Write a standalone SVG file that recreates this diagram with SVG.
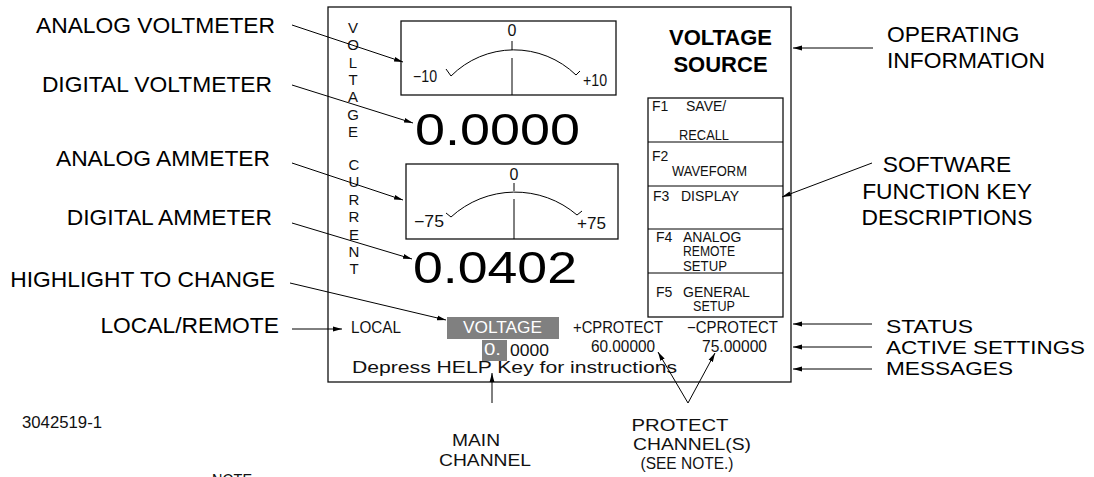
<svg xmlns="http://www.w3.org/2000/svg" width="1094" height="477" viewBox="0 0 1094 477">
<style>
.lbl{font-family:"Liberation Sans",Arial,sans-serif;font-size:22.8px;fill:#000}
.cad{font-family:"Liberation Sans",Arial,sans-serif;font-size:14px;fill:#111}
.vt{font-family:"Liberation Sans",Arial,sans-serif;font-size:15px;fill:#111}
.mid{font-family:"Liberation Sans",Arial,sans-serif;font-size:16px;fill:#111}
.big{font-family:"Liberation Sans",Arial,sans-serif;font-size:44px;fill:#000}
.ttl{font-family:"Liberation Sans",Arial,sans-serif;font-size:22px;font-weight:bold;fill:#000}
.bot{font-family:"Liberation Sans",Arial,sans-serif;font-size:16.5px;fill:#111}
.st{font-family:"Liberation Sans",Arial,sans-serif;font-size:19px;fill:#000}
.wh{fill:#fff}
.box{fill:none;stroke:#111;stroke-width:1.3}
.ln{fill:none;stroke:#000;stroke-width:1}
.hl{fill:#808080}
</style>
<defs>
<marker id="ah" markerUnits="userSpaceOnUse" markerWidth="10" markerHeight="6" refX="9" refY="3" orient="auto">
<path d="M0,0.6 L9,3 L0,5.4 z" fill="#000"/>
</marker>
</defs>

<g id="panel">
<rect x="328" y="7" width="463" height="375" class="box" stroke-width="1.5"/>
</g>

<g id="voltage-vertical">
<text class="vt" text-anchor="middle" x="353" y="33">V</text>
<text class="vt" text-anchor="middle" x="353" y="50.3">O</text>
<text class="vt" text-anchor="middle" x="353" y="67.6">L</text>
<text class="vt" text-anchor="middle" x="353" y="84.9">T</text>
<text class="vt" text-anchor="middle" x="353" y="102.2">A</text>
<text class="vt" text-anchor="middle" x="353" y="119.5">G</text>
<text class="vt" text-anchor="middle" x="353" y="136.8">E</text>
</g>
<g id="current-vertical">
<text class="vt" text-anchor="middle" x="354" y="170">C</text>
<text class="vt" text-anchor="middle" x="354" y="187.4">U</text>
<text class="vt" text-anchor="middle" x="354" y="204.8">R</text>
<text class="vt" text-anchor="middle" x="354" y="222.2">R</text>
<text class="vt" text-anchor="middle" x="354" y="239.6">E</text>
<text class="vt" text-anchor="middle" x="354" y="257">N</text>
<text class="vt" text-anchor="middle" x="354" y="274.4">T</text>
</g>

<g id="analog-voltmeter">
<rect x="401" y="21" width="215" height="74" class="box"/>
<line x1="512" y1="41" x2="512" y2="50" class="ln"/>
<line x1="512" y1="58" x2="512" y2="95" class="ln"/>
<path d="M451,76 A89,89 0 0 1 576,75" class="ln"/>
<path d="M446,69 L451,76" class="ln"/>
<path d="M576,75 L580,71" class="ln"/>
<text class="mid" x="512" y="36" text-anchor="middle">0</text>
<text class="mid" x="413" y="82" textLength="24" lengthAdjust="spacingAndGlyphs">−10</text>
<text class="mid" x="583" y="86" textLength="24" lengthAdjust="spacingAndGlyphs">+10</text>
</g>

<g id="digital-voltmeter">
<text class="big" x="415" y="145" textLength="165" lengthAdjust="spacingAndGlyphs">0.0000</text>
</g>

<g id="analog-ammeter">
<rect x="406" y="164" width="212" height="75" class="box"/>
<line x1="514" y1="183" x2="514" y2="191" class="ln"/>
<line x1="514" y1="199" x2="514" y2="239" class="ln"/>
<path d="M451,217 A95,95 0 0 1 577,215" class="ln"/>
<path d="M446,213 L451,217" class="ln"/>
<path d="M577,215 L582,211" class="ln"/>
<text class="mid" x="514" y="180" text-anchor="middle">0</text>
<text class="mid" x="414" y="227" textLength="30" lengthAdjust="spacingAndGlyphs">−75</text>
<text class="mid" x="577" y="229" textLength="29" lengthAdjust="spacingAndGlyphs">+75</text>
</g>

<g id="digital-ammeter">
<text class="big" x="413" y="283" textLength="164" lengthAdjust="spacingAndGlyphs">0.0402</text>
</g>

<g id="title">
<text class="ttl" x="720.5" y="45" text-anchor="middle">VOLTAGE</text>
<text class="ttl" x="720.5" y="72" text-anchor="middle">SOURCE</text>
</g>

<g id="function-keys">
<rect x="648" y="98" width="135" height="219" class="box"/>
<line x1="648" y1="142" x2="783" y2="142" class="ln" stroke-width="1.3"/>
<line x1="648" y1="186" x2="783" y2="186" class="ln" stroke-width="1.3"/>
<line x1="648" y1="229" x2="783" y2="229" class="ln" stroke-width="1.3"/>
<line x1="648" y1="273" x2="783" y2="273" class="ln" stroke-width="1.3"/>
<text class="cad" y="111"><tspan x="652">F1</tspan><tspan x="686">SAVE/</tspan></text>
<text class="cad" x="679" y="140" textLength="50" lengthAdjust="spacingAndGlyphs">RECALL</text>
<text class="cad" x="652" y="161">F2</text>
<text class="cad" x="672" y="176" textLength="75" lengthAdjust="spacingAndGlyphs">WAVEFORM</text>
<text class="cad" y="201"><tspan x="653">F3</tspan><tspan x="681">DISPLAY</tspan></text>
<text class="cad" y="242"><tspan x="656">F4</tspan><tspan x="683">ANALOG</tspan></text>
<text class="cad" x="683" y="256" textLength="52" lengthAdjust="spacingAndGlyphs">REMOTE</text>
<text class="cad" x="683" y="271" textLength="44" lengthAdjust="spacingAndGlyphs">SETUP</text>
<text class="cad" y="297"><tspan x="656">F5</tspan><tspan x="683">GENERAL</tspan></text>
<text class="cad" x="693" y="311" textLength="42" lengthAdjust="spacingAndGlyphs">SETUP</text>
</g>

<g id="status-row">
<text class="mid" x="351" y="333" textLength="50" lengthAdjust="spacingAndGlyphs">LOCAL</text>
<rect x="447" y="317" width="112" height="22" class="hl"/>
<text class="mid wh" x="463" y="333" textLength="79" lengthAdjust="spacingAndGlyphs">VOLTAGE</text>
<text class="mid" x="573" y="333" textLength="90" lengthAdjust="spacingAndGlyphs">+CPROTECT</text>
<text class="mid" x="687" y="333" textLength="91" lengthAdjust="spacingAndGlyphs">−CPROTECT</text>
</g>

<g id="settings-row">
<rect x="482" y="340" width="25" height="21" class="hl"/>
<text class="mid wh" x="484" y="355" textLength="17" lengthAdjust="spacingAndGlyphs">0.</text>
<text class="mid" x="510" y="356" textLength="39" lengthAdjust="spacingAndGlyphs">0000</text>
<text class="mid" x="591" y="352" textLength="64" lengthAdjust="spacingAndGlyphs">60.00000</text>
<text class="mid" x="702" y="352" textLength="65" lengthAdjust="spacingAndGlyphs">75.00000</text>
</g>

<g id="message-row">
<text class="mid" x="352" y="373" textLength="325" lengthAdjust="spacingAndGlyphs">Depress HELP Key for instructions</text>
</g>

<g id="left-labels">
<text class="lbl" x="275" y="33" text-anchor="end">ANALOG VOLTMETER</text>
<text class="lbl" x="272" y="92" text-anchor="end">DIGITAL VOLTMETER</text>
<text class="lbl" x="270" y="166" text-anchor="end">ANALOG AMMETER</text>
<text class="lbl" x="272" y="225" text-anchor="end">DIGITAL AMMETER</text>
<text class="lbl" x="275" y="287" text-anchor="end">HIGHLIGHT TO CHANGE</text>
<text class="lbl" x="279" y="333" text-anchor="end">LOCAL/REMOTE</text>
</g>

<g id="right-labels">
<text class="lbl" x="887" y="42">OPERATING</text>
<text class="lbl" x="887" y="68">INFORMATION</text>
<text class="lbl" x="947" y="172" text-anchor="middle">SOFTWARE</text>
<text class="lbl" x="947" y="199" text-anchor="middle">FUNCTION KEY</text>
<text class="lbl" x="947" y="225" text-anchor="middle">DESCRIPTIONS</text>
<text class="st" x="886" y="333" textLength="87" lengthAdjust="spacingAndGlyphs">STATUS</text>
<text class="st" x="886" y="353.5" textLength="199" lengthAdjust="spacingAndGlyphs">ACTIVE SETTINGS</text>
<text class="st" x="886" y="375" textLength="127" lengthAdjust="spacingAndGlyphs">MESSAGES</text>
</g>

<g id="bottom-labels">
<text class="mid" x="22" y="428" textLength="80" lengthAdjust="spacingAndGlyphs">3042519-1</text>
<text class="bot" x="476" y="446" text-anchor="middle" textLength="48" lengthAdjust="spacingAndGlyphs">MAIN</text>
<text class="bot" x="485" y="466" text-anchor="middle" textLength="92" lengthAdjust="spacingAndGlyphs">CHANNEL</text>
<text class="bot" x="680" y="431" text-anchor="middle" font-size="16" textLength="97" lengthAdjust="spacingAndGlyphs">PROTECT</text>
<text class="bot" x="692" y="450" text-anchor="middle" font-size="16" textLength="118" lengthAdjust="spacingAndGlyphs">CHANNEL(S)</text>
<text class="bot" x="687" y="469" text-anchor="middle" font-size="13" textLength="93" lengthAdjust="spacingAndGlyphs">(SEE NOTE.)</text>
<text class="mid" x="212" y="486" textLength="40" lengthAdjust="spacingAndGlyphs">NOTE</text>
</g>

<g id="connectors">
<line x1="292" y1="25" x2="403" y2="62" class="ln" marker-end="url(#ah)"/>
<line x1="292" y1="85" x2="413" y2="123" class="ln" marker-end="url(#ah)"/>
<line x1="292" y1="163" x2="403" y2="200" class="ln" marker-end="url(#ah)"/>
<line x1="292" y1="223" x2="412" y2="259" class="ln" marker-end="url(#ah)"/>
<line x1="290" y1="283" x2="446" y2="320" class="ln" marker-end="url(#ah)"/>
<line x1="292" y1="329" x2="342" y2="329" class="ln" marker-end="url(#ah)"/>
<line x1="873" y1="48" x2="793" y2="48" class="ln" marker-end="url(#ah)"/>
<line x1="872" y1="163" x2="782" y2="197" class="ln" marker-end="url(#ah)"/>
<line x1="872" y1="324" x2="793" y2="324" class="ln" marker-end="url(#ah)"/>
<line x1="872" y1="347" x2="793" y2="347" class="ln" marker-end="url(#ah)"/>
<line x1="872" y1="369" x2="793" y2="369" class="ln" marker-end="url(#ah)"/>
<line x1="492" y1="403" x2="492" y2="373" class="ln" marker-end="url(#ah)"/>
<line x1="688" y1="403" x2="658" y2="352" class="ln" marker-end="url(#ah)"/>
<line x1="688" y1="403" x2="715" y2="353" class="ln" marker-end="url(#ah)"/>
</g>
</svg>
